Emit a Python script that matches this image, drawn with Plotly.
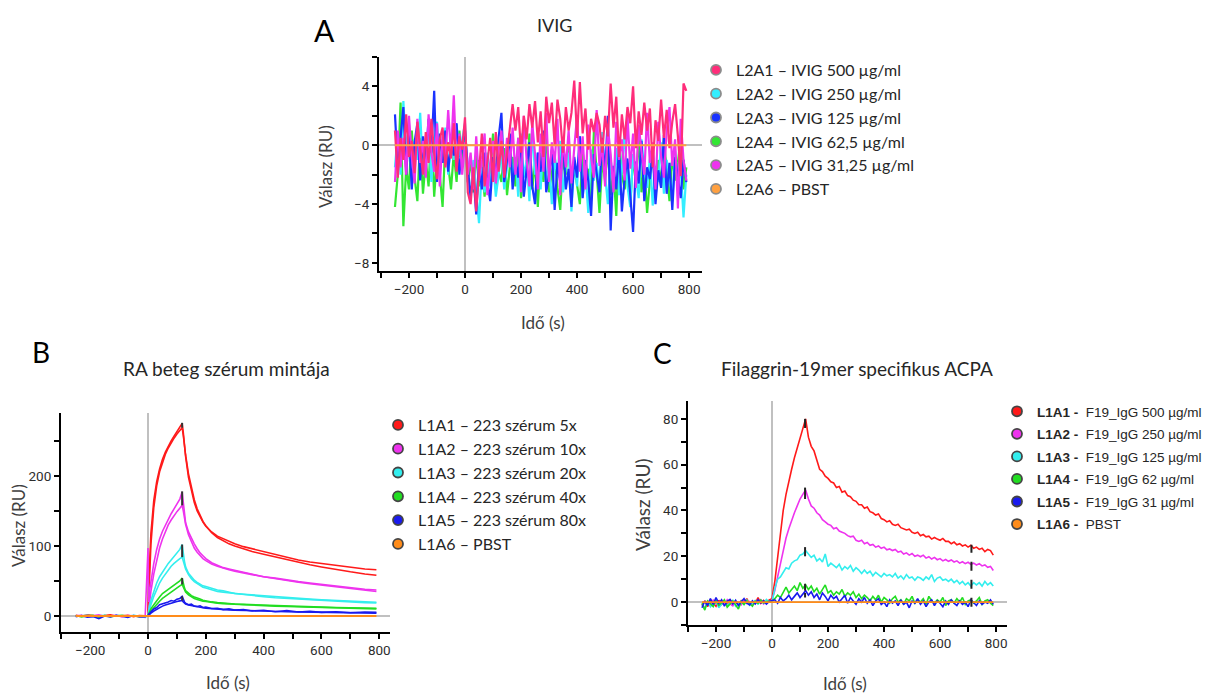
import plotly.graph_objects as go

W, H = 1212, 693

# ================= Panel A : IVIG =================
A_t = list(range(-250, 800, 10))
A_L2A1 = [1.0, -2.2, 0.5, -1.0, 2.1, -0.8, 0.3, -1.9, 1.6, -0.4,
          -2.0, 0.9, -1.2, 1.8, -0.6, -2.3, 0.4, 1.2, -1.5, 0.2,
          -0.9, 1.5, -1.8, 0.6, -0.3,
          1.9, -3.2, -4.0, -1.5, -4.5, -2.0, 0.8, -2.8, -1.2, 0.5, -2.5, 0.9, -1.8, 0.3, -2.2, -0.5, 1.2,
          2.8, 1.0, 2.6, -0.5, 2.0, 0.4, 2.8, 1.2, 3.0, 0.2,
          2.3, -0.8, 3.3, 1.5, 2.9, 0.0, 3.1, 1.8, -0.5, 2.6,
          1.0, 2.2, 4.4, 0.5, 4.3, 0.8, 2.5, -0.3, 1.8, 0.9,
          2.2, 1.4, -0.5, 2.0, 0.6, 4.2, 1.2, 3.3, -0.8, 2.1,
          0.4, 2.6, 1.5, 4.0, -0.2, 2.3, 0.7, 2.9, 1.0, 2.5,
          -1.5, 1.7, 0.3, 3.1, 0.5, 2.4, -0.2, 1.6, 2.8, 0.6,
          -2.1, 4.2, 3.7]
A_L2A2 = [-1.5, 0.8, -2.0, 3.0, -0.5, 1.5, -2.2, 0.4, -1.0, 2.2,
          -1.8, 0.3, 1.0, -2.5, 0.2, 1.6, -1.2, -0.3, 1.2, -2.0,
          0.5, -1.0, 1.4, -0.8, 0.4,
          1.5, -2.5, -3.5, -1.0, -3.0, -5.3, -1.5, -3.2, -0.5, -2.8, -1.0, -3.5, -2.0, -0.5, -3.0, -1.5, 0.5,
          -2.5, -0.8, -3.5, 0.8, -2.2, -1.0, -3.8, 1.2, -2.0, -0.5,
          -3.0, 0.5, -2.5, -1.2, -4.0, -0.8, -2.2, 0.3, -3.2, -1.5,
          -0.5, -4.5, -1.0, -2.8, 0.6, -3.5, -1.8, -4.6, -0.3, -2.4,
          -1.2, -3.0, 0.9, -2.0, -4.0, -1.0, -2.6, -0.2, -3.4, -1.6,
          1.0, -2.8, -4.2, -0.6, -2.0, -3.6, 0.4, -1.8, -2.9, -0.9,
          -4.1, -1.4, -2.5, 0.2, -3.3, -1.0, -2.2, -3.8, -0.4, -2.7,
          -1.5, -4.9, -2.0]
A_L2A3 = [2.1, -1.5, 0.5, 2.6, -2.0, 1.0, -3.0, 0.2, 1.5, -2.4,
          0.6, -1.0, 1.8, -0.5, 3.7, -2.5, 0.8, -1.2, 1.0, -1.8,
          0.3, -0.7, 1.5, -2.0, 0.0,
          1.0, -1.5, -3.5, -2.0, -4.7, -1.0, -3.0, -0.5, -2.5, -3.8, -0.8, -2.0, 0.5, 2.2, -2.5, -1.0, 0.8,
          -3.0, -1.0, -2.2, 0.5, -3.5, -1.5, 0.2, -2.8, -4.0, -0.5,
          -1.8, 1.0, -3.2, -2.0, -0.3, -4.4, -1.2, -2.5, 0.4, -3.0,
          -1.6, -4.2, -0.8, -2.2, 0.6, -3.6, -1.0, -2.4, -4.8, -0.6,
          -1.9, -3.2, 0.5, -2.0, 2.0, -5.8, -1.4, -3.0, -0.2, -4.5,
          -2.2, -0.9, -3.4, -5.9, -1.1, -2.6, 0.3, -3.8, -1.5, -2.3,
          -0.4, -4.0, -1.7, -2.9, 0.7, -3.3, -1.2, -4.4, -0.8, -2.1,
          -3.6, -1.0, -2.5]
A_L2A4 = [-4.2, -2.0, 2.9, -5.5, -1.5, -3.0, 1.0, -2.2, -3.8, 0.5,
          -3.3, -1.0, -2.8, 1.2, -3.5, -0.8, -2.0, -4.2, 0.3, -1.5,
          -3.0, -0.5, -2.5, 1.0, -1.2,
          0.5, -2.5, -1.0, -3.2, -0.5, -2.8, -1.5, -3.5, -1.0, -2.2, 0.8, -3.0, -1.8, -2.5, -0.2, -3.4, -1.5,
          -0.8, -2.8, 0.5, -3.6, -1.5, -2.2, 0.8, -3.0, -1.2, -4.2,
          -0.5, -2.5, 1.0, -3.2, -1.8, -0.6, -2.9, -4.4, -1.0, -2.0,
          0.6, -3.5, -1.4, -2.6, -4.0, -0.4, -2.2, -1.6, -3.8, 0.9,
          -1.8, -4.6, -1.0, -2.4, -0.2, -3.4, -1.6, -4.8, 0.4, -2.0,
          -3.0, -1.2, -4.0, -0.8, -2.6, 0.6, -3.2, -1.4, -4.6, -2.2,
          -0.3, -3.6, -1.0, -2.8, 0.5, -1.9, -3.8, -0.7, -2.4, -1.2,
          0.6, -3.0, -1.5]
A_L2A5 = [-2.5, 1.0, -1.5, 0.5, -2.0, 2.0, -0.8, -2.6, 1.8, -1.2,
          0.3, -2.2, 2.1, -0.5, -1.8, 1.5, -2.8, 0.6, -1.0, 2.4,
          -0.6, 3.4, -1.5, 0.8, -2.0,
          0.2, -2.0, -0.5, -3.0, 0.6, -2.4, -1.0, 0.8, -3.4, -1.2, 0.3, -2.6, -0.4, 1.0, -2.0, 0.5, -1.5,
          1.2, -2.0, 0.5, -3.2, 2.0, -1.0, -2.8, 1.5, -0.6, -3.0,
          0.8, -1.8, 2.2, -2.5, 0.2, -1.2, 1.8, -3.4, 0.4, -1.5,
          1.0, -2.6, -0.2, 2.0, -1.8, 0.6, -3.0, 1.4, -0.8, -2.2,
          2.4, -1.4, 0.0, -2.8, 1.2, -0.6, -3.2, 1.6, -1.0, 0.4,
          -2.4, 2.0, -1.6, 0.8, -2.9, 1.4, -0.4, -2.0, 2.2, -1.2,
          0.2, -3.0, 1.6, -0.8, -2.2, 1.0, 2.6, -1.4, 0.4, -4.3,
          1.8, -1.0, -2.4]
A_pbst_t = [-250, 790]
A_L2A6 = [0.0, 0.0]
A_labels = ["L2A1 – IVIG 500 µg/ml", "L2A2 – IVIG 250 µg/ml", "L2A3 – IVIG 125 µg/ml",
            "L2A4 – IVIG 62,5 µg/ml", "L2A5 – IVIG 31,25 µg/ml", "L2A6 – PBST"]

# ================= Panel B : RA serum =================
B_t_pre = [-250, -230, -210, -190, -170, -150, -130, -110, -90, -70, -50, -30, -10]
B_t_inj = [0, 2, 5, 10, 20, 30, 40, 50, 60, 70, 80, 90, 100, 110, 118, 122, 126, 130,
           140, 150, 160, 170, 180, 190, 200, 220, 240, 260, 280, 300, 330, 360,
           400, 440, 480, 520, 560, 600, 650, 700, 750, 790]
B_L1A1_pre = [1.0, -0.5, 1.5, 0.0, -1.0, 0.5, 1.5, -0.5, 0.5, 1.0, -1.0, 0.5, 0.0]
B_L1A2_pre = [0.0, 1.0, -1.0, 0.5, 1.5, -0.5, 0.0, 1.0, -1.5, 0.5, 0.0, -1.0, -2.0]
B_L1A3_pre = [-0.5, 0.5, 1.0, -1.0, 0.0, 1.0, -0.5, 0.5, 0.0, -1.0, 1.0, 0.0, -1.5]
B_L1A4_pre = [0.5, -1.5, 0.0, 1.0, -2.0, 0.5, -1.0, 0.0, 1.0, -0.5, 0.0, -1.0, -0.5]
B_L1A5_pre = [-1.0, 0.5, -2.0, -1.0, -4.0, 0.0, -1.5, 1.0, -0.5, -2.0, 0.5, -1.0, -1.0]
B_L1A1 = [0, 40, 75, 118, 165, 192, 210, 224, 234, 243, 250, 257, 263, 269, 275, 262, 245, 228,
          198, 178, 162, 150, 141, 134, 128, 120, 114, 110, 106, 103, 99, 96,
          92, 87, 84, 80, 77, 75, 72, 69, 67, 66]
B_L1A1_fit = [0, 25, 58, 102, 155, 186, 206, 220, 231, 240, 248, 254, 260, 265, 269, 258, 243, 230,
              203, 182, 166, 153, 143, 135, 129, 119, 112, 107, 103, 100, 96, 92,
              88, 84, 80, 76, 73, 70, 66, 63, 60, 58]
B_L1A2 = [97, 20, 35, 50, 75, 95, 110, 121, 130, 138, 146, 153, 160, 167, 177, 160, 145, 133,
          120, 111, 103, 96, 90, 86, 82, 76, 72, 69, 67, 65, 62, 60,
          56, 54, 51, 49, 47, 45, 42, 40, 38, 37]
B_L1A2_fit = [0, 8, 20, 35, 60, 80, 97, 110, 121, 130, 137, 144, 149, 154, 158, 150, 140, 131,
              116, 105, 97, 91, 86, 82, 79, 74, 71, 68, 66, 64, 61, 59,
              56, 53, 50, 48, 46, 44, 41, 39, 37, 35]
B_L1A3 = [0, 8, 15, 22, 36, 47, 56, 63, 69, 75, 80, 85, 90, 95, 102, 88, 78, 70,
          61, 56, 51, 48, 45, 43, 42, 39, 37, 36, 34, 32, 31, 30,
          29, 27, 26, 25, 24, 23, 22, 21, 20, 19.5]
B_L1A3_fit = [0, 4, 9, 16, 28, 38, 47, 54, 60, 66, 71, 75, 79, 82, 84, 78, 72, 67,
              59, 53, 49, 46, 43, 41, 40, 37, 35, 34, 33, 32, 30, 29,
              27.5, 26, 25, 24, 23, 22, 21, 20, 19, 18.5]
B_L1A4 = [0, 3, 6, 10, 16, 22, 27, 32, 35, 38, 41, 44, 47, 50, 54, 46, 40, 36,
          32, 29, 27, 25, 24, 22.5, 21.5, 20, 19, 18, 17.5, 17, 16.5, 16,
          15, 14.5, 14, 13, 12.8, 12.5, 12, 11.5, 11, 11]
B_L1A4_fit = [0, 2, 4, 7, 12, 17, 21, 25, 28, 31, 35, 38, 40, 43, 45, 41, 37, 34,
              30, 27, 25, 23.5, 22, 21, 20.5, 19, 18, 17.5, 17, 16.5, 16, 15.5,
              14.5, 14, 13.5, 13, 12.5, 12, 11.5, 11, 10.5, 10]
B_L1A5 = [0, 2, 3, 6, 10, 12, 16, 17, 19, 20, 22, 21, 24, 25, 28, 23, 20, 18,
          16, 17, 14, 13.5, 14.5, 12, 12.5, 10.5, 11, 9, 10, 8.5, 9, 7,
          8, 6, 7.5, 5.5, 6.5, 5, 6, 4.5, 5.5, 5]
B_L1A5_fit = [0, 1, 2, 4, 7, 9.5, 12, 14, 15.5, 17, 18.5, 19.5, 20.5, 21.5, 22, 20, 18.5, 17,
              15.5, 14.5, 13.5, 12.8, 12.2, 11.6, 11, 10.2, 9.6, 9, 8.6, 8.2, 7.7, 7.3,
              6.8, 6.4, 6, 5.7, 5.4, 5.1, 4.8, 4.5, 4.2, 4]
B_pbst_t = [-250, 790]
B_L1A6 = [0.0, 0.0]
B_rep_t = 118
B_rep_lo = [269, 158, 84, 45, 22]
B_rep_hi = [276, 178, 102, 54, 28]
B_labels = ["L1A1 – 223 szérum 5x", "L1A2 – 223 szérum 10x", "L1A3 – 223 szérum 20x",
            "L1A4 – 223 szérum 40x", "L1A5 – 223 szérum 80x", "L1A6 – PBST"]

# ================= Panel C : Filaggrin-19mer ACPA =================
C_t = list(range(-250, 800, 10))
C_L1A1 = [-1.5, 0.5, -2.0, 1.0, -0.5, -1.8, 0.8, -1.0, 0.3, -1.5,
          1.2, -0.8, 0.0, -1.2, 0.6, -0.4, 1.5, -1.0, 0.2, -0.6,
          2.0, -0.5, 0.8, -0.3, 1.0,
          1.5, 9.0, 20.0, 31.0, 40.0, 47.0, 53.0, 58.0, 63.0, 67.0, 72.0, 76.0, 80.0,
          72, 68, 66, 62, 58, 57, 55, 54, 52.5, 52,
          50, 50.5, 48, 48.5, 46.5, 46, 44.5, 44, 42.5, 42.5,
          41, 41.5, 39.5, 39, 38, 38.5, 36.5, 36, 35, 35.5,
          34, 33.5, 34, 32.5, 32, 31.5, 31.8, 30.5, 30, 30.5,
          29, 29.5, 28.5, 28.8, 27.5, 28.2, 27.5, 27, 27.8, 26.5,
          26.5, 25.5, 26.2, 25, 25.5, 24.5, 25, 24, 24.8, 23.5,
          24, 23, 23.5, 22, 23, 22.5, 20.5]
C_L1A2 = [-1.0, -2.5, 0.5, -1.5, 0.8, -0.5, -2.0, 0.3, -1.0, 1.0,
          -0.8, -1.6, 0.4, -0.2, -1.2, 0.8, -0.6, 0.2, -1.4, 0.6,
          -0.3, 1.0, -0.8, 0.5, 0.2,
          1.0, 5.0, 11.0, 17.0, 23.0, 28.0, 32.0, 36.0, 39.0, 42.0, 45.0, 47.0, 49.0,
          45, 42, 41, 39, 38, 36, 35, 34, 33.5, 32,
          32.5, 31, 30.5, 30, 29, 28.5, 28.8, 27, 26.5, 27,
          25.5, 26, 24.8, 25.2, 24, 24.5, 23.5, 24, 22.8, 23.2,
          22.5, 23, 21.8, 22.2, 21, 21.5, 20.5, 21.2, 20, 20.5,
          19.8, 20.5, 19.2, 19.8, 18.8, 19.5, 18.5, 19, 18, 18.6,
          17.8, 18.4, 17.5, 18, 17, 17.6, 16.8, 17.4, 16.5, 17,
          16.2, 16.8, 15.8, 16.2, 15.2, 15.6, 13.8]
C_L1A3 = [-1.2, -3.0, 0.5, -2.0, -0.5, 1.0, -2.5, -0.8, 0.6, -1.5,
          -0.3, 0.8, -1.8, -0.6, 0.4, -1.0, 0.9, -1.4, -0.2, 0.6,
          -0.9, 0.3, -0.5, 1.2, 0.0,
          0.0, 6.0, 10.0, 11.0, 13.0, 15.0, 14.5, 17.0, 18.0, 18.5, 20.5, 21.0, 22.5,
          21, 19.5, 20.5, 18, 19, 17.5, 21, 15.5, 17, 16,
          15, 16.5, 14, 15.5, 14.5, 16, 13.5, 15, 14, 12.5,
          14, 12.5, 13.5, 11.5, 13, 12, 11, 12.5, 11.5, 12,
          11, 12.5, 10.5, 11.5, 10, 12, 10.5, 11, 9.5, 11,
          10.5, 9.5, 11, 10, 12, 9, 10.5, 11, 9.5, 10,
          9, 10, 8.5, 9.5, 8, 9, 7.5, 8.5, 7, 8.5,
          7.5, 8.5, 7, 9, 7.5, 8.5, 7]
C_L1A4 = [-0.5, -3.5, 0.5, -1.0, -2.0, 0.8, -1.5, -0.3, 1.0, -2.2,
          -0.8, 0.5, -1.2, -3.0, 0.3, -1.0, 0.6, -0.5, -1.8, 0.4,
          -0.6, 0.9, -0.4, 0.2, 0.5,
          0.5, 1.5, 3.0, 2.0, 4.5, 6.5, 4.0, 5.5, 7.0, 5.0, 8.5, 6.0, 7.5,
          5.5, 7.0, 4.5, 6.0, 3.5, 5.5, 7.5, 4.0, 5.0, 3.0,
          4.5, 3.5, 5.5, 2.5, 4.0, 3.0, 4.5, 2.0, 3.5, 1.5,
          3.0, 2.0, 0.5, 2.5, 1.0, 3.0, 0.0, 2.0, 1.0, -0.5,
          1.5, 2.5, 0.0, 1.0, -1.0, 1.5, 0.5, 2.5, -0.5, 1.0,
          0.0, 1.5, -1.0, 2.5, 0.5, -0.5, 1.0, 0.0, 2.0, -1.5,
          0.5, 1.0, -0.5, 1.5, 0.0, 2.0, -1.0, 0.5, 1.0, -0.5,
          0.5, 2.0, -1.0, 0.5, 1.0, -0.5, -1.5]
C_L1A5 = [-2.5, 0.5, -1.5, 1.5, -1.0, 2.0, -0.5, 1.0, -1.8, 0.3,
          1.2, -0.8, 0.8, -1.5, 0.2, 1.5, -0.5, -1.2, 0.6, -0.8,
          1.0, -0.4, 0.5, -0.9, 0.3,
          0.5, 1.0, -0.5, 2.0, 0.5, 1.5, 3.0, 1.0, 2.5, 4.0, 2.0, 3.5, 5.0,
          3.0, 4.5, 2.0, 3.5, 1.0, 4.0, 2.5, 0.5, 3.0, 1.5,
          2.5, 0.0, 1.5, 3.0, -0.5, 2.0, 0.5, -1.0, 1.5, 0.0,
          2.0, -0.5, 1.0, -1.5, 0.5, 1.5, -1.0, 0.0, -2.0, 1.0,
          -0.5, 0.5, -1.5, 1.0, -1.0, 0.0, -2.5, 0.5, -0.5, 1.5,
          -1.0, 0.5, -2.0, 0.0, 1.0, -1.5, 0.5, -0.5, -2.0, 0.5,
          -1.0, 1.0, -0.5, -1.5, 0.5, -1.0, 0.0, -2.0, 1.0, -0.5,
          -1.5, 0.5, -1.0, 0.0, -0.5, 1.0, -1.0]
C_pbst_t = [-250, 790]
C_L1A6 = [0.0, 0.0]
C_rep_t = 118
C_rep_lo = [76, 45, 20, 5, 2]
C_rep_hi = [80, 50, 24, 8, 4]
C_rep2_t = 712
C_rep2_lo, C_rep2_hi = -2, 25
C_codes = ["L1A1 -", "L1A2 -", "L1A3 -", "L1A4 -", "L1A5 -", "L1A6 -"]
C_desc = ["F19_IgG 500 µg/ml", "F19_IgG 250 µg/ml", "F19_IgG 125 µg/ml",
          "F19_IgG 62 µg/ml", "F19_IgG 31 µg/ml", "PBST"]

# ================= styling =================
A_colors = ["#ff2d7a", "#33eeff", "#1a33ff", "#33e633", "#ee33ee", "#ffa040"]
BC_colors = ["#ff1a1a", "#ee33ee", "#33eeee", "#22dd22", "#1a1aee", "#ff8c1a"]

fig = go.Figure()

# ---- Panel A traces (drawing order: green, cyan, blue, magenta, pink, orange)
A_series = [A_L2A1, A_L2A2, A_L2A3, A_L2A4, A_L2A5]
for i in [3, 1, 2, 4, 0]:
    fig.add_trace(go.Scatter(x=A_t, y=A_series[i], mode="lines", showlegend=False,
                             line=dict(color=A_colors[i], width=2.2), xaxis="x", yaxis="y"))
fig.add_trace(go.Scatter(x=A_pbst_t, y=A_L2A6, mode="lines", showlegend=False,
                         line=dict(color=A_colors[5], width=2), xaxis="x", yaxis="y"))
for i, lab in enumerate(A_labels):
    fig.add_trace(go.Scatter(x=[None], y=[None], mode="markers", name=lab, legend="legend",
                             legendgroup="a%d" % i,
                             marker=dict(size=10, color=A_colors[i], line=dict(color="#8c8c8c", width=1.8)),
                             xaxis="x", yaxis="y"))

# ---- Panel B traces
B_pre = [B_L1A1_pre, B_L1A2_pre, B_L1A3_pre, B_L1A4_pre, B_L1A5_pre]
B_dat = [B_L1A1, B_L1A2, B_L1A3, B_L1A4, B_L1A5]
B_fit = [B_L1A1_fit, B_L1A2_fit, B_L1A3_fit, B_L1A4_fit, B_L1A5_fit]
for i in range(5):
    fig.add_trace(go.Scatter(x=B_t_pre + B_t_inj, y=B_pre[i] + B_dat[i], mode="lines", showlegend=False,
                             line=dict(color=BC_colors[i], width=1.6), xaxis="x2", yaxis="y2"))
    fig.add_trace(go.Scatter(x=B_t_inj, y=B_fit[i], mode="lines", showlegend=False,
                             line=dict(color=BC_colors[i], width=1.6), xaxis="x2", yaxis="y2"))
for i in range(5):
    fig.add_trace(go.Scatter(x=[B_rep_t, B_rep_t], y=[B_rep_lo[i], B_rep_hi[i]], mode="lines",
                             showlegend=False, line=dict(color="#333333", width=2),
                             xaxis="x2", yaxis="y2"))
fig.add_trace(go.Scatter(x=B_pbst_t, y=B_L1A6, mode="lines", showlegend=False,
                         line=dict(color=BC_colors[5], width=2), xaxis="x2", yaxis="y2"))
for i, lab in enumerate(B_labels):
    fig.add_trace(go.Scatter(x=[None], y=[None], mode="markers", name=lab, legend="legend2",
                             legendgroup="b%d" % i,
                             marker=dict(size=10, color=BC_colors[i], line=dict(color="#444444", width=1.8)),
                             xaxis="x2", yaxis="y2"))

# ---- Panel C traces
C_series = [C_L1A1, C_L1A2, C_L1A3, C_L1A4, C_L1A5]
for i in range(5):
    fig.add_trace(go.Scatter(x=C_t, y=C_series[i], mode="lines", showlegend=False,
                             line=dict(color=BC_colors[i], width=1.6), xaxis="x3", yaxis="y3"))
fig.add_trace(go.Scatter(x=C_pbst_t, y=C_L1A6, mode="lines", showlegend=False,
                         line=dict(color=BC_colors[5], width=1.8), xaxis="x3", yaxis="y3"))
for i in range(5):
    fig.add_trace(go.Scatter(x=[C_rep_t, C_rep_t], y=[C_rep_lo[i], C_rep_hi[i]], mode="lines",
                             showlegend=False, line=dict(color="#222222", width=2),
                             xaxis="x3", yaxis="y3"))
fig.add_trace(go.Scatter(x=[C_rep2_t, C_rep2_t], y=[C_rep2_lo, C_rep2_hi], mode="lines",
                         showlegend=False, line=dict(color="#222222", width=2, dash="dash"),
                         xaxis="x3", yaxis="y3"))
for i in range(6):
    lab = "<b>%s</b>\u00a0\u00a0%s" % (C_codes[i], C_desc[i])
    fig.add_trace(go.Scatter(x=[None], y=[None], mode="markers", name=lab, legend="legend3",
                             legendgroup="c%d" % i,
                             marker=dict(size=10, color=BC_colors[i], line=dict(color="#444444", width=1.8)),
                             xaxis="x3", yaxis="y3"))

# ================= axes =================
tickfont = dict(family="Roboto, DejaVu Sans", size=13.5, color="#2e2e2e")


def ax(domain, rng, dtick, mdtick, anchor):
    return dict(domain=domain, range=rng, anchor=anchor, showline=True, linecolor="black",
                linewidth=2, ticks="outside", ticklen=5, tickwidth=1.5, tickcolor="black",
                dtick=dtick, tick0=0, showgrid=False, zeroline=True, zerolinecolor="#c0c0c0",
                zerolinewidth=1.5, tickfont=tickfont, fixedrange=True,
                minor=dict(dtick=mdtick, tick0=0, ticks="outside", ticklen=5, tickwidth=1.5,
                           tickcolor="black", showgrid=False))


def xd(a, b):
    return [a / W, b / W]


def yd(top, bottom):
    return [1 - bottom / H, 1 - top / H]


fig.update_layout(
    xaxis=ax(xd(379, 702), [-307, 846], 200, 100, "y"),
    yaxis=ax(yd(57, 271), [-8.55, 6], 4, 2, "x"),
    xaxis2=ax(xd(61, 390), [-301, 837], 200, 100, "y2"),
    yaxis2=ax(yd(413, 632), [-23, 290], 100, 50, "x2"),
    xaxis3=ax(xd(688, 1007), [-300, 839], 200, 100, "y3"),
    yaxis3=ax(yd(401, 625), [-10, 87.8], 20, 10, "x3"),
)

# ================= legends =================
fig.update_layout(
    legend=dict(x=696 / W, y=1 - 53 / H, xanchor="left", yanchor="top",
                font=dict(family="Lato", size=16, color="#262626"),
                bgcolor="rgba(0,0,0,0)", tracegroupgap=0),
    legend2=dict(x=378 / W, y=1 - 408 / H, xanchor="left", yanchor="top",
                 font=dict(family="Lato", size=16, color="#262626"),
                 bgcolor="rgba(0,0,0,0)", tracegroupgap=0),
    legend3=dict(x=997 / W, y=1 - 396 / H, xanchor="left", yanchor="top",
                 font=dict(family="Liberation Sans, Arial", size=13.5, color="#262626"),
                 bgcolor="rgba(0,0,0,0)", tracegroupgap=2),
)

# ================= annotations =================
def ann(text, x, y, size, family="Lato", color="#262626", angle=0):
    return dict(text=text, x=x / W, y=1 - y / H, xref="paper", yref="paper",
                xanchor="center", yanchor="middle", showarrow=False, textangle=angle,
                font=dict(family=family, size=size, color=color))


axc = "#404040"
fig.update_layout(annotations=[
    ann("A", 324, 30, 30, family="Lato", color="black"),
    ann("IVIG", 554, 25, 18),
    ann("Válasz (RU)", 325, 167, 17, color=axc, angle=-90),
    ann("Idő (s)", 543, 322, 17, color=axc),
    ann("B", 41, 352, 28, color="black"),
    ann("RA beteg szérum mintája", 226, 368, 19),
    ann("Válasz (RU)", 18, 526, 17, color=axc, angle=-90),
    ann("Idő (s)", 228, 682, 17, color=axc),
    ann("C", 662, 353, 28, color="black"),
    ann("Filaggrin-19mer specifikus ACPA", 857, 368, 19),
    ann("Válasz (RU)", 642, 505, 19, color=axc, angle=-90),
    ann("Idő (s)", 845, 683, 17, color=axc),
])

fig.update_layout(width=W, height=H, margin=dict(l=0, r=0, t=0, b=0, autoexpand=False),
                  paper_bgcolor="white", plot_bgcolor="white", showlegend=True)

fig.write_html("out.html")
